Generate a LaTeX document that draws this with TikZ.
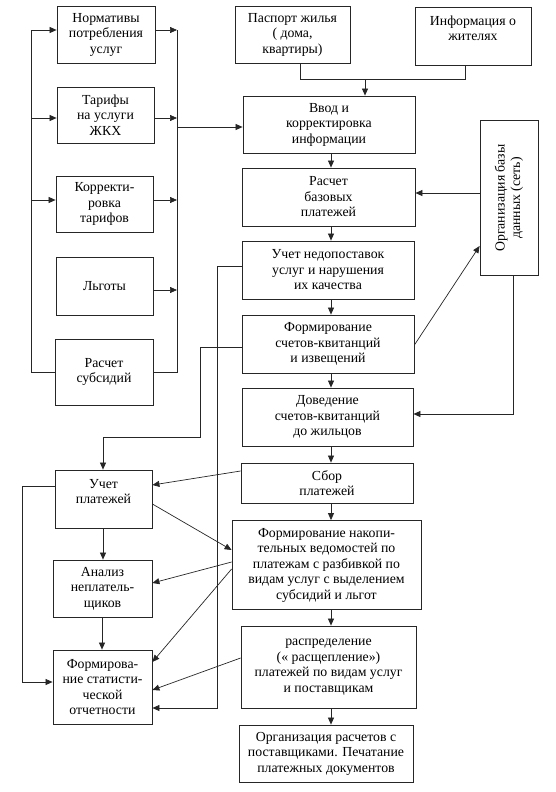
\documentclass[tikz,border=0pt]{standalone}
\usepackage{fontspec}
\setmainfont{Liberation Serif}
\usetikzlibrary{arrows.meta}
\begin{document}
\begin{tikzpicture}[x=1pt,y=-1pt,
  box/.style={draw=black!85,line width=0.8pt,align=center,inner sep=1pt,
    font=\fontsize{13.8}{15.5}\selectfont},
  ln/.style={draw=black!85,line width=0.7pt},
  arr/.style={ln,-{Triangle[length=7pt,width=6pt]}}]
\useasboundingbox (0,0) rectangle (555,792);
% left column
\node[box,minimum width=98pt,minimum height=57pt] (norm) at (106,34.5) {Нормативы\\потребления\\услуг};
\node[box,minimum width=97pt,minimum height=56pt] (tarif) at (105.5,115) {Тарифы\\на услуги\\ЖКХ};
\node[box,minimum width=97pt,minimum height=56pt] (korr) at (104.5,204) {Корректи-\\ровка\\тарифов};
\node[box,minimum width=97pt,minimum height=58pt] (lgoty) at (104.5,286) {Льготы};
\node[box,minimum width=98pt,minimum height=66pt] (subs) at (104,372) {Расчет\\субсидий};
% top right
\node[box,minimum width=115pt,minimum height=57pt] (pasp) at (292.5,34.5) {Паспорт жилья\\( дома,\\квартиры)};
\node[box,minimum width=116pt,minimum height=58pt] (info) at (473,36) {Информация о\\жителях\\~};
% main column
\node[box,minimum width=172pt,minimum height=57pt] (vvod) at (329,124.5) {Ввод и\\корректировка\\информации};
\node[box,minimum width=173pt,minimum height=58pt] (rasch) at (328.5,197) {Расчет\\базовых\\платежей};
\node[box,minimum width=172pt,minimum height=58pt] (uchned) at (328,270) {Учет недопоставок\\услуг и нарушения\\их качества};
\node[box,minimum width=172pt,minimum height=58pt] (formsch) at (328,344) {Формирование\\счетов-квитанций\\и извещений};
\node[box,minimum width=171pt,minimum height=58pt] (dov) at (327.5,417) {Доведение\\счетов-квитанций\\до жильцов};
\node[box,minimum width=172pt,minimum height=40pt] (sbor) at (327,483) {Сбор\\платежей};
\node[box,minimum width=189pt,minimum height=89pt] (nakop) at (326.5,565) {Формирование накопи-\\тельных ведомостей по\\платежам с разбивкой по\\видам услуг с выделением\\субсидий и льгот};
\node[box,minimum width=175pt,minimum height=82pt] (raspr) at (328.5,667) {распределение\\(« расщепление»)\\платежей по видам услуг\\и поставщикам};
\node[box,minimum width=174pt,minimum height=57pt] (orgras) at (326,753.5) {Организация расчетов с\\поставщиками. Печатание\\платежных документов};
\node[box,minimum width=155pt,minimum height=58pt,rotate=90] (orgbd) at (509,198) {Организация базы\\данных (сеть)};
% lower left
\node[box,minimum width=97pt,minimum height=58pt] (uchpl) at (103.5,499) {Учет\\платежей\\~};
\node[box,minimum width=99pt,minimum height=57pt] (analiz) at (102.5,588.5) {Анализ\\неплатель-\\щиков};
\node[box,minimum width=99pt,minimum height=74pt] (formstat) at (102.5,687) {Формирова-\\ние статисти-\\ческой\\отчетности};
% coordinates
\coordinate (lbTop) at (31,30);
\coordinate (lbT) at (31,118);
\coordinate (lbK) at (31,200);
\coordinate (lbBot) at (31,372);
\coordinate (rbTop) at (177,30);
\coordinate (rbT) at (177,118);
\coordinate (rbK) at (177,200);
\coordinate (rbL) at (177,290);
\coordinate (rbBot) at (177,372);
\coordinate (rbV) at (177,127);
\coordinate (j1) at (300,79);
\coordinate (j2) at (465,79);
\coordinate (j3) at (365,79);
\coordinate (cx) at (331,0);
\coordinate (ob3) at (513,414);
\coordinate (u1) at (217,266);
\coordinate (u2) at (217,708);
\coordinate (f1) at (200,347);
\coordinate (f2) at (200,437);
\coordinate (f3) at (103,437);
\coordinate (b1) at (22,486);
\coordinate (b2) at (22,682);
% left buses
\draw[ln] (subs.west |- lbBot) -- (lbBot) -- (lbTop);
\draw[arr] (lbTop) -- (norm.west |- lbTop);
\draw[arr] (lbT) -- (tarif.west |- lbT);
\draw[arr] (lbK) -- (korr.west |- lbK);
\draw[ln] (subs.east |- rbBot) -- (rbBot) -- (rbTop);
\draw[arr] (norm.east |- rbTop) -- (rbTop);
\draw[arr] (tarif.east |- rbT) -- (rbT);
\draw[arr] (korr.east |- rbK) -- (rbK);
\draw[arr] (lgoty.east |- rbL) -- (rbL);
\draw[arr] (rbV) -- (vvod.west |- rbV);
% top
\draw[ln] (pasp.south -| j1) -- (j1) -- (j2) -- (info.south -| j2);
\draw[arr] (j3) -- (vvod.north -| j3);
% main chain
\draw[arr] (vvod.south -| cx) -- (rasch.north -| cx);
\draw[arr] (rasch.south -| cx) -- (uchned.north -| cx);
\draw[arr] (uchned.south -| cx) -- (formsch.north -| cx);
\draw[arr] (formsch.south -| cx) -- (dov.north -| cx);
\draw[arr] (dov.south -| cx) -- (sbor.north -| cx);
\draw[arr] (sbor.south -| cx) -- (nakop.north -| cx);
\draw[arr] (nakop.south -| cx) -- (raspr.north -| cx);
\draw[arr] (raspr.south -| cx) -- (orgras.north -| cx);
% database
\draw[arr] (orgbd.north |- 0,193) -- (rasch.east |- 0,193);
\draw[arr] (formsch.east |- 0,345) -- (orgbd.north |- 0,246);
\draw[arr] (orgbd.west -| ob3) -- (ob3) -- (dov.east |- ob3);
% left side links
\draw[arr] (uchned.west |- u1) -- (u1) -- (u2) -- (formstat.east |- u2);
\draw[arr] (formsch.west |- f1) -- (f1) -- (f2) -- (f3) -- (uchpl.north -| f3);
\draw[arr] (sbor.west |- 0,471) -- (uchpl.east |- 0,485);
\draw[arr] (uchpl.east |- 0,504) -- (nakop.west |- 0,550);
\draw[arr] (nakop.west |- 0,562) -- (analiz.east |- 0,583);
\draw[arr] (nakop.west |- 0,569) -- (formstat.east |- 0,662);
\draw[arr] (raspr.west |- 0,658) -- (formstat.east |- 0,690);
\draw[arr] (uchpl.south -| 103,0) -- (analiz.north -| 103,0);
\draw[arr] (analiz.south -| 102,0) -- (formstat.north -| 102,0);
\draw[ln] (uchpl.west |- b1) -- (b1) -- (b2);
\draw[arr] (b2) -- (formstat.west |- b2);
\end{tikzpicture}
\end{document}
